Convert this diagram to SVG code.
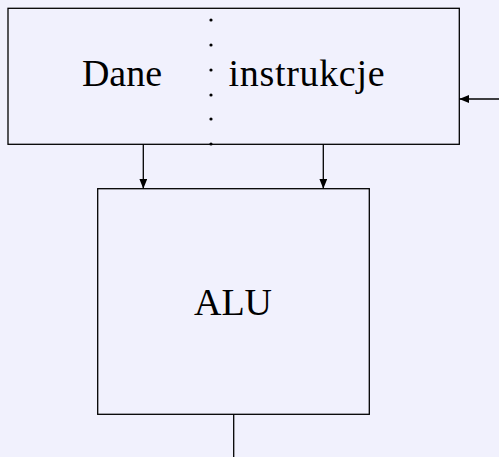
<svg xmlns="http://www.w3.org/2000/svg" width="499" height="457" viewBox="0 0 499 457">
<style>
.box{fill:none;stroke:#000;stroke-width:1.3}
.lbl{font-family:"Liberation Serif","Times New Roman",serif;font-size:38px;fill:#000;text-anchor:middle}
.conn{stroke:#000;stroke-width:1.3;fill:none}
.dot{fill:#000}
</style>
<defs>
<marker id="ah" markerWidth="10" markerHeight="8" refX="10" refY="4" orient="auto" markerUnits="userSpaceOnUse">
<path d="M0,0 L10,4 L0,8 Z" fill="#000"/>
</marker>
</defs>
<rect width="499" height="457" fill="#f1f1fd"/>
<g id="memory">
<rect class="box" x="8" y="8.3" width="451.3" height="136"/>
<text class="lbl" x="122" y="86">Dane</text>
<text class="lbl" x="306.5" y="86" textLength="156" lengthAdjust="spacing">instrukcje</text>
<g id="separator">
<circle class="dot" cx="211" cy="20" r="1.6"/>
<circle class="dot" cx="211" cy="45" r="1.6"/>
<circle class="dot" cx="211" cy="70" r="1.6"/>
<circle class="dot" cx="211" cy="95" r="1.6"/>
<circle class="dot" cx="211" cy="119" r="1.6"/>
<circle class="dot" cx="211" cy="144" r="1.6"/>
</g>
</g>
<g id="alu">
<rect class="box" x="97.7" y="188.7" width="271.6" height="225.6"/>
<text class="lbl" x="233" y="315">ALU</text>
</g>
<g id="connectors">
<line class="conn" x1="499" y1="99" x2="459.3" y2="99" marker-end="url(#ah)"/>
<line class="conn" x1="143.3" y1="144.3" x2="143.3" y2="188.7" marker-end="url(#ah)"/>
<line class="conn" x1="323.3" y1="144.3" x2="323.3" y2="188.7" marker-end="url(#ah)"/>
<line class="conn" x1="233.7" y1="414.3" x2="233.7" y2="457"/>
</g>
</svg>
